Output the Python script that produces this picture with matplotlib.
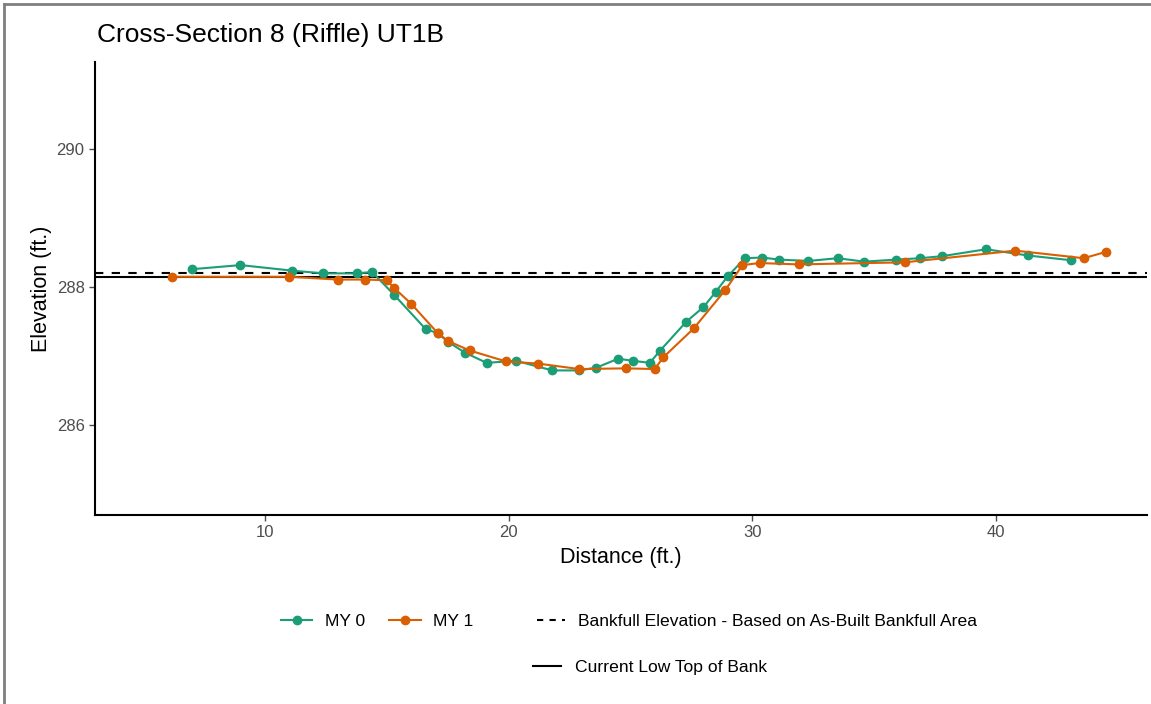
import matplotlib
matplotlib.use("Agg")
import matplotlib.pyplot as plt
from matplotlib.lines import Line2D

# ---- data ----
my0_x = [7.0, 9.0, 11.1, 12.4, 13.8, 14.4, 15.3, 16.6, 17.1, 17.5, 18.2, 19.1, 20.3,
         21.8, 22.9, 23.6, 24.5, 25.1, 25.8, 26.2, 27.3, 28.0, 28.5, 29.0, 29.7,
         30.4, 31.1, 32.3, 33.5, 34.6, 35.9, 36.9, 37.8, 39.6, 41.3, 43.1]
my0_y = [288.26, 288.32, 288.24, 288.20, 288.20, 288.22, 287.89, 287.39, 287.33, 287.21,
         287.05, 286.90, 286.93, 286.79, 286.79, 286.83, 286.96, 286.93, 286.90, 287.07,
         287.50, 287.71, 287.93, 288.16, 288.42, 288.43, 288.40, 288.38, 288.42, 288.37,
         288.40, 288.42, 288.45, 288.55, 288.46, 288.39]

my1_x = [6.2, 11.0, 13.0, 14.1, 15.0, 15.3, 16.0, 17.1, 17.5, 18.4, 19.9, 21.2, 22.9,
         24.8, 26.0, 26.35, 27.6, 28.9, 29.6, 30.3, 31.9, 36.25, 40.8, 43.6, 44.5]
my1_y = [288.15, 288.15, 288.11, 288.11, 288.10, 287.99, 287.76, 287.33, 287.22, 287.08,
         286.92, 286.89, 286.81, 286.82, 286.81, 286.98, 287.40, 287.96, 288.32, 288.35,
         288.33, 288.36, 288.53, 288.42, 288.51]

bankfull_elev = 288.20
low_top_of_bank = 288.145

series_names = ["MY 0", "MY 1"]
title = "Cross-Section 8 (Riffle) UT1B"
x_ticks = [10, 20, 30, 40]
y_ticks = [286, 288, 290]

# ---- style ----
GREEN = "#1B9E77"
ORANGE = "#D95F02"
plt.rcParams["font.family"] = ["Liberation Sans", "DejaVu Sans"]

fig = plt.figure(figsize=(11.51, 7.04), dpi=100)
W, H = 1151, 704
ax = fig.add_axes([95 / W, (H - 515) / H, (1147 - 95) / W, (515 - 62) / H])

ax.axhline(bankfull_elev, color="black", linestyle=(0, (4, 4)), linewidth=1.5, zorder=2)
ax.axhline(low_top_of_bank, color="black", linestyle="-", linewidth=1.5, zorder=2)

ax.plot(my0_x, my0_y, color=GREEN, marker="o", markersize=6, linewidth=1.5, zorder=3)
ax.plot(my1_x, my1_y, color=ORANGE, marker="o", markersize=6, linewidth=1.5, zorder=3)

ax.set_xlim(3.03, 46.2)
ax.set_ylim(284.69, 291.27)
ax.set_xticks(x_ticks)
ax.set_yticks(y_ticks)
ax.tick_params(axis="both", colors="#4D4D4D", labelsize=12, length=4, width=1)
for lab in ax.get_xticklabels() + ax.get_yticklabels():
    lab.set_color("#4D4D4D")

for s in ["top", "right"]:
    ax.spines[s].set_visible(False)
for s in ["left", "bottom"]:
    ax.spines[s].set_linewidth(1.5)
    ax.spines[s].set_color("black")

ax.set_xlabel("Distance (ft.)", fontsize=15.5, labelpad=5)
ax.set_ylabel("Elevation (ft.)", fontsize=15.5, labelpad=3)
fig.text(97 / W, 1 - 35 / H, title, fontsize=19, ha="left", va="center")

# legends
h0 = Line2D([], [], color=GREEN, marker="o", markersize=6, linewidth=1.5)
h1 = Line2D([], [], color=ORANGE, marker="o", markersize=6, linewidth=1.5)
hb = Line2D([], [], color="black", linestyle=(0, (3, 3)), linewidth=1.5)
ht = Line2D([], [], color="black", linestyle="-", linewidth=1.5)

lp = dict(size=12.6)
fig.legend([h0, h1], series_names, loc="center", bbox_to_anchor=(377 / W, 1 - 621 / H),
           ncol=2, frameon=False, prop=lp, handlelength=1.8, columnspacing=1.4,
           handletextpad=0.7)
fig.legend([hb], ["Bankfull Elevation - Based on As-Built Bankfull Area"], loc="center",
           bbox_to_anchor=(757 / W, 1 - 621 / H), frameon=False, prop=lp,
           handlelength=1.6, handletextpad=0.8)
fig.legend([ht], ["Current Low Top of Bank"], loc="center",
           bbox_to_anchor=(650 / W, 1 - 667 / H), frameon=False, prop=lp,
           handlelength=1.6, handletextpad=0.8)

# figure border (gray)
fig.add_artist(Line2D([4 / W, 4 / W], [0, 1 - 4 / H], color="#7F7F7F", linewidth=2,
                      transform=fig.transFigure))
fig.add_artist(Line2D([4 / W, 1], [1 - 4 / H, 1 - 4 / H], color="#7F7F7F", linewidth=2,
                      transform=fig.transFigure))

fig.savefig("out.png", dpi=100, facecolor="white")
